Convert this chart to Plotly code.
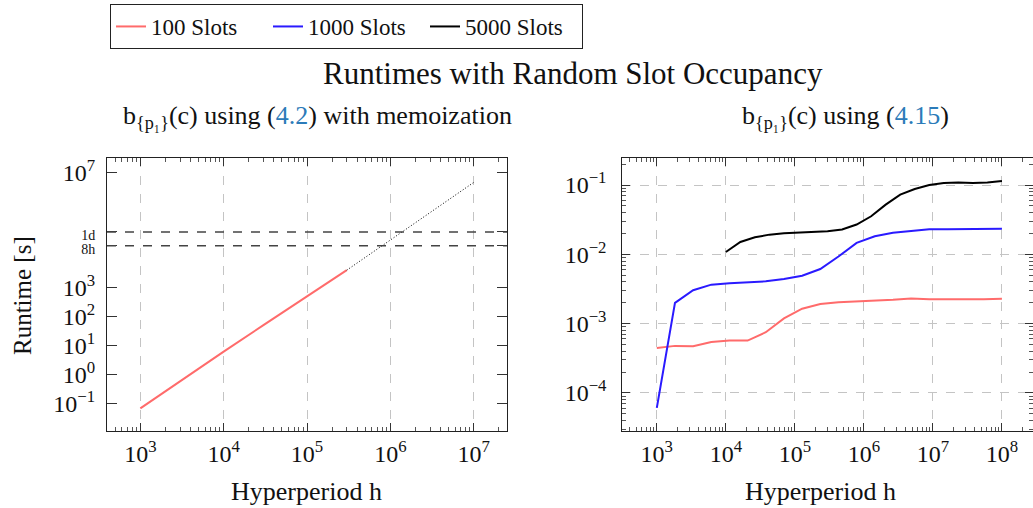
import plotly.graph_objects as go

# ---------------- data ----------------
# Left panel: b_{p1}(c) using (4.2) with memoization, 100 slots
memo_h = [1e3, 3e3, 1e4, 3e4, 1e5, 3e5]
memo_runtime = [0.067, 0.59, 6.2, 51, 515, 4100]
# dotted extrapolation
extrap_h = [3e5, 1e7]
extrap_runtime = [4100, 4.5e6]
ONE_DAY = 86400
EIGHT_HOURS = 28800

# Right panel: b_{p1}(c) using (4.15)
h_small = [1000, 1833, 3360, 6158, 11288, 20691, 37927, 69519, 127427, 233572,
           428133, 784760, 1438450, 2636651, 4832930, 8858668, 16237767,
           29763514, 54555948, 100000000]
rt_100 = [4.46e-4, 4.77e-4, 4.71e-4, 5.44e-4, 5.69e-4, 5.69e-4, 7.5e-4, 1.19e-3,
          1.64e-3, 1.92e-3, 2.04e-3, 2.09e-3, 2.19e-3, 2.21e-3, 2.31e-3, 2.24e-3,
          2.24e-3, 2.23e-3, 2.25e-3, 2.29e-3]
rt_1000 = [6.08e-5, 1.99e-3, 3.03e-3, 3.65e-3, 3.82e-3, 3.94e-3, 4.07e-3, 4.4e-3,
           4.92e-3, 6.14e-3, 9.3e-3, 1.46e-2, 1.82e-2, 2.04e-2, 2.15e-2, 2.3e-2,
           2.3e-2, 2.3e-2, 2.35e-2, 2.33e-2]
h_large = [10000, 16238, 26367, 42813, 69519, 112884, 183298, 297635, 483293,
           784760, 1274275, 2069138, 3359818, 5455595, 8858668, 14384499,
           23357215, 37926902, 61584821, 100000000]
rt_5000 = [0.0108, 0.01507, 0.01758, 0.01923, 0.0201, 0.0205, 0.0210, 0.0215,
           0.0228, 0.0269, 0.0354, 0.0521, 0.0726, 0.0875, 0.1, 0.107, 0.109,
           0.107, 0.109, 0.114]

series_names = ["100 Slots", "1000 Slots", "5000 Slots"]
left_xticks = [1e3, 1e4, 1e5, 1e6, 1e7]
left_xlabels = ["10<sup>3</sup>", "10<sup>4</sup>", "10<sup>5</sup>", "10<sup>6</sup>", "10<sup>7</sup>"]
left_yticks = [0.1, 1, 10, 100, 1000, EIGHT_HOURS, ONE_DAY, 1e7]
left_ylabels = ["10<sup>−1</sup>", "10<sup>0</sup>", "10<sup>1</sup>", "10<sup>2</sup>", "10<sup>3</sup>",
                "<span style='font-size:14px'>8h</span>", "<span style='font-size:14px'>1d</span>",
                "10<sup>7</sup>"]
right_xticks = [1e3, 1e4, 1e5, 1e6, 1e7, 1e8]
right_xlabels = ["10<sup>3</sup>", "10<sup>4</sup>", "10<sup>5</sup>", "10<sup>6</sup>", "10<sup>7</sup>", "10<sup>8</sup>"]
right_yticks = [1e-4, 1e-3, 1e-2, 1e-1]
right_ylabels = ["10<sup>−4</sup>", "10<sup>−3</sup>", "10<sup>−2</sup>", "10<sup>−1</sup>"]

# ---------------- style ----------------
FONT = "Liberation Serif"
RED = "#ff6b6b"
BLUE = "#2a1aff"
BLACK = "#000000"
LINK = "#2b7bb9"
W, H = 1033, 508

def minor_vals(lo, hi):
    return [m * 10 ** k for k in range(lo, hi) for m in range(2, 10)]

fig = go.Figure()

# left panel
fig.add_trace(go.Scatter(x=memo_h, y=memo_runtime, mode="lines", line=dict(color=RED, width=2),
                         xaxis="x", yaxis="y", showlegend=False))
fig.add_trace(go.Scatter(x=extrap_h, y=extrap_runtime, mode="lines",
                         line=dict(color=BLACK, width=1, dash="1px,2px"),
                         xaxis="x", yaxis="y", showlegend=False))
# right panel
for xs, ys, c, n in [(h_small, rt_100, RED, series_names[0]),
                     (h_small, rt_1000, BLUE, series_names[1]),
                     (h_large, rt_5000, BLACK, series_names[2])]:
    fig.add_trace(go.Scatter(x=xs, y=ys, mode="lines", line=dict(color=c, width=2),
                             name=n, xaxis="x2", yaxis="y2"))

for yv in [ONE_DAY, EIGHT_HOURS]:
    fig.add_shape(type="line", xref="x domain", yref="y", x0=0, x1=1, y0=yv, y1=yv,
                  line=dict(color="#444444", width=1.3, dash="dash"))

axis_common = dict(type="log", showline=True, linecolor="#222222", linewidth=1, mirror="ticks",
                   ticks="inside", tickcolor="#333333", automargin=False,
                   tickfont=dict(family=FONT, size=24, color="#111111"), zeroline=False)
grid = dict(showgrid=True, gridcolor="#c4c4c4", griddash="dash", gridwidth=1)

x_l = (107 / W, 507 / W)
x_r = (622.3 / W, 1.0)
y_d = (1 - 431 / H, 1 - 158 / H)

fig.update_layout(
    width=W, height=H, margin=dict(l=0, r=0, t=0, b=0),
    plot_bgcolor="white", paper_bgcolor="white",
    font=dict(family=FONT, size=20, color="#111111"),
    xaxis=dict(axis_common, domain=x_l, range=[2.6, 7.4], anchor="y",
               tickvals=left_xticks, ticktext=left_xlabels, ticklen=8, ticklabelstandoff=1, **grid,
               minor=dict(tickvals=minor_vals(2, 8), ticks="inside", ticklen=4,
                          tickcolor="#555555", showgrid=False)),
    yaxis=dict(axis_common, domain=y_d, range=[-1.96, 7.5], anchor="x",
               tickvals=left_yticks, ticktext=left_ylabels, ticklen=10, ticklabelstandoff=6,
               showgrid=False),
    xaxis2=dict(axis_common, domain=x_r, range=[2.5, 8.45], anchor="y2",
                tickvals=right_xticks, ticktext=right_xlabels, ticklen=8, ticklabelstandoff=1, **grid,
                minor=dict(tickvals=minor_vals(2, 9), ticks="inside", ticklen=4,
                           tickcolor="#555555", showgrid=False)),
    yaxis2=dict(axis_common, domain=y_d, range=[-4.55, -0.61], anchor="x2",
                tickvals=right_yticks, ticktext=right_ylabels, ticklen=8, ticklabelstandoff=10, **grid,
                minor=dict(tickvals=minor_vals(-5, 0), ticks="inside", ticklen=4,
                           tickcolor="#555555", showgrid=False)),
    legend=dict(orientation="h", x=110 / W, y=1 - 4 / H, xanchor="left", yanchor="top",
                bordercolor="#222222", borderwidth=1, bgcolor="white",
                font=dict(family=FONT, size=23, color="#111111"),
                tracegroupgap=0, itemwidth=30, entrywidth=112, entrywidthmode="pixels"),
)

ann = []
ann.append(dict(text="Runtimes with Random Slot Occupancy", x=573 / W, y=1 - 74 / H,
                font=dict(size=31)))
ann.append(dict(text=f"b<sub>{{p₁}}</sub>(c) using (<span style='color:{LINK}'>4.2</span>) with memoization",
                x=317 / W, y=1 - 117 / H, font=dict(size=26)))
ann.append(dict(text=f"b<sub>{{p₁}}</sub>(c) using (<span style='color:{LINK}'>4.15</span>)",
                x=845 / W, y=1 - 117 / H, font=dict(size=26)))
ann.append(dict(text="Hyperperiod h", x=306 / W, y=1 - 491 / H, font=dict(size=26)))
ann.append(dict(text="Hyperperiod h", x=820 / W, y=1 - 491 / H, font=dict(size=26)))
ann.append(dict(text="Runtime [s]", x=22 / W, y=1 - 296 / H, textangle=-90, font=dict(size=25)))
for a in ann:
    a.update(xref="paper", yref="paper", showarrow=False, xanchor="center", yanchor="middle")
    a["font"] = dict(family=FONT, color="#111111", **a["font"])
fig.update_layout(annotations=ann)

fig.write_html("out.html")
